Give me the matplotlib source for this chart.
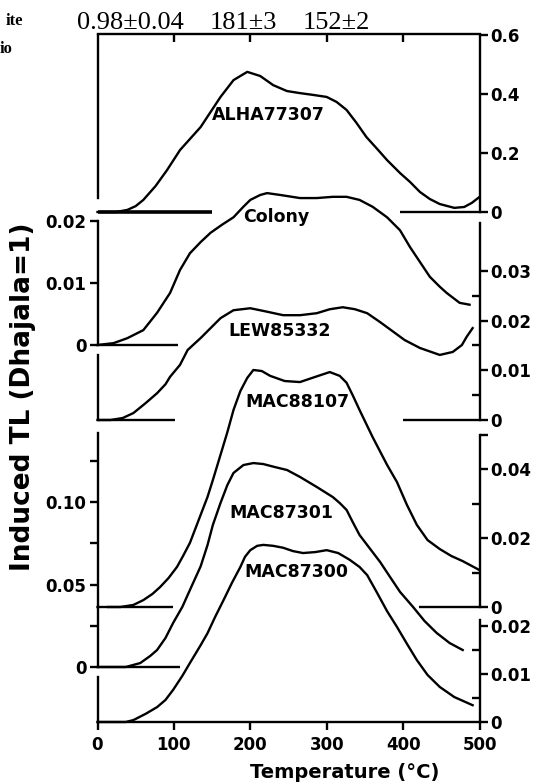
import matplotlib
matplotlib.use('Agg')
import matplotlib.pyplot as plt

# glow curves, temperature in C, induced TL (Dhajala=1)
alha_t = [0, 24, 39, 50, 60, 76, 91, 108, 135, 148, 161, 178, 196, 213, 230, 248, 265, 282,
          300, 313, 326, 339, 352, 366, 379, 396, 409, 422, 435, 448, 467, 480, 490, 500]
alha_v = [0, 0, 0.007, 0.020, 0.041, 0.088, 0.142, 0.210, 0.288, 0.339, 0.390, 0.447, 0.475,
          0.461, 0.430, 0.410, 0.403, 0.397, 0.390, 0.373, 0.346, 0.302, 0.254, 0.214, 0.176,
          0.132, 0.102, 0.068, 0.044, 0.027, 0.014, 0.017, 0.031, 0.051]

colony_t = [0, 21, 39, 60, 78, 95, 108, 121, 135, 148, 163, 178, 191, 200, 213, 222, 239, 265,
            287, 308, 326, 343, 360, 379, 396, 409, 422, 435, 448, 457, 474, 487]
colony_v = [0, 0.0003, 0.0011, 0.0024, 0.0052, 0.0084, 0.0121, 0.0148, 0.0166, 0.0181, 0.0194,
            0.0206, 0.0223, 0.0234, 0.0242, 0.0245, 0.0242, 0.0237, 0.0237, 0.0239, 0.0239,
            0.0234, 0.0223, 0.0206, 0.0185, 0.0158, 0.0134, 0.0110, 0.0094, 0.0084, 0.0068, 0.0065]

lew_t = [0, 17, 33, 47, 63, 78, 89, 95, 108, 118, 135, 148, 161, 178, 200, 219, 243, 265, 287,
         304, 321, 337, 353, 370, 386, 402, 422, 448, 465, 477, 483, 491]
lew_v = [0, 0, 0.0004, 0.0014, 0.0034, 0.0054, 0.0072, 0.0087, 0.0111, 0.0141, 0.0165, 0.0185,
         0.0205, 0.0221, 0.0225, 0.0219, 0.0211, 0.0211, 0.0215, 0.0223, 0.0227, 0.0223, 0.0215,
         0.0197, 0.0179, 0.0161, 0.0145, 0.0131, 0.0137, 0.0151, 0.0167, 0.0185]

m107_t = [0, 30, 47, 60, 72, 82, 93, 104, 112, 121, 135, 144, 151, 161, 170, 178, 187, 196, 204,
          215, 226, 245, 265, 285, 304, 317, 326, 334, 343, 360, 379, 392, 405, 418, 432, 448,
          463, 478, 500]
m107_v = [0, 0, 0.0006, 0.0020, 0.0038, 0.0058, 0.0084, 0.0116, 0.0148, 0.0186, 0.0267, 0.0319,
          0.0368, 0.0441, 0.0507, 0.0571, 0.0626, 0.0664, 0.0687, 0.0684, 0.0670, 0.0655, 0.0652,
          0.0667, 0.0681, 0.0670, 0.0650, 0.0614, 0.0571, 0.0493, 0.0412, 0.0362, 0.0296, 0.0238,
          0.0194, 0.0168, 0.0148, 0.0133, 0.0107]

m301_t = [0, 37, 56, 69, 78, 89, 99, 111, 121, 135, 144, 151, 161, 170, 178, 191, 204, 217, 232,
          248, 265, 287, 308, 317, 326, 334, 343, 356, 370, 383, 396, 413, 428, 444, 461, 478]
m301_v = [0, 0, 0.0024, 0.0067, 0.0103, 0.0176, 0.0267, 0.0364, 0.0467, 0.0610, 0.0739, 0.0861,
          0.0994, 0.1103, 0.1176, 0.1224, 0.1236, 0.1230, 0.1212, 0.1194, 0.1152, 0.1091, 0.1030,
          0.0994, 0.0952, 0.0879, 0.0800, 0.0721, 0.0636, 0.0545, 0.0455, 0.0364, 0.0279, 0.0206,
          0.0145, 0.0103]

m300_t = [0, 37, 47, 63, 78, 89, 99, 111, 121, 135, 144, 154, 165, 176, 187, 193, 200, 209, 217,
          230, 243, 256, 269, 285, 300, 315, 330, 343, 353, 366, 379, 392, 405, 418, 432, 448,
          467, 491]
m300_v = [0, 0, 0.0004, 0.0017, 0.0031, 0.0046, 0.0067, 0.0096, 0.0123, 0.0160, 0.0185, 0.0219,
          0.0254, 0.0290, 0.0323, 0.0344, 0.0358, 0.0367, 0.0369, 0.0367, 0.0363, 0.0356, 0.0352,
          0.0354, 0.0358, 0.0352, 0.0338, 0.0323, 0.0306, 0.0269, 0.0231, 0.0198, 0.0163, 0.0129,
          0.0098, 0.0073, 0.0052, 0.0035]

temp_ticks = [0, 100, 200, 300, 400, 500]
top_text = ['0.98\u00b10.04', '181\u00b13', '152\u00b12']

W, H = 541, 784
LW = 1.7
plt.rcParams['font.family'] = ['DejaVu Sans']
plt.rcParams['font.weight'] = 'bold'

fig = plt.figure(figsize=(W / 100, H / 100), dpi=100)
rect = [97.5 / W, 1 - 722 / H, 382 / W, 688 / H]


def fx(px):
    return px / W


def fy(py):
    return 1 - py / H


def panel(base_px, px_per_unit):
    # every panel shares the same box, only its own y scale differs
    ax = fig.add_axes(rect)
    ax.patch.set_visible(False)
    ax.set_xlim(0, 500)
    ax.set_ylim((base_px - 722) / px_per_unit, (base_px - 34) / px_per_unit)
    for sp in ax.spines.values():
        sp.set_visible(False)
        sp.set_linewidth(LW)
    ax.set_xticks([])
    ax.set_yticks([])
    return ax


def spine(ax, side, lo, hi):
    ax.spines[side].set_visible(True)
    ax.spines[side].set_bounds(lo, hi)


def yticks(ax, side, major, labels, minor=(), minor_dir='out'):
    ax.yaxis.set_ticks_position(side)
    ax.set_yticks(major)
    ax.set_yticklabels(labels)
    ax.set_yticks(list(minor), minor=True)
    ax.tick_params(axis='y', which='major', direction='out', length=6, width=LW,
                   labelsize=12, pad=2)
    ax.tick_params(axis='y', which='minor', direction=minor_dir, length=6, width=LW)


def curve(ax, t, v):
    ax.plot(t, v, color='k', lw=LW, clip_on=False, solid_joinstyle='round')


# ALHA77307
ax = panel(212, 295)
curve(ax, alha_t, alha_v)
ax.hlines(0, 0, 150, color='k', lw=2.6)
ax.hlines(0, 396, 500, color='k', lw=LW)
spine(ax, 'left', 0.047, 0.6)
spine(ax, 'right', 0, 0.6)
spine(ax, 'top', 0, 500)
yticks(ax, 'right', [0, 0.2, 0.4, 0.6], ['0', '0.2', '0.4', '0.6'])
ax.xaxis.set_ticks_position('top')
ax.set_xticks(temp_ticks[1:-1])
ax.set_xticklabels([])
ax.tick_params(axis='x', direction='in', length=6, width=LW)

# Colony
ax = panel(345, 6200)
curve(ax, colony_t, colony_v)
ax.hlines(0, 0, 106, color='k', lw=LW)
spine(ax, 'left', 0, 0.02)
yticks(ax, 'left', [0, 0.01, 0.02], ['0', '0.01', '0.02'])

# LEW85332
ax = panel(420, 4967)
curve(ax, lew_t, lew_v)
ax.hlines(0, 0, 102, color='k', lw=LW)
ax.hlines(0, 400, 500, color='k', lw=LW)
spine(ax, 'left', 0, 0.013)
spine(ax, 'right', 0, 0.0397)
yticks(ax, 'right', [0, 0.01, 0.02, 0.03], ['0', '0.01', '0.02', '0.03'],
       minor=[0.005, 0.015, 0.025], minor_dir='in')

# MAC88107
ax = panel(607, 3450)
curve(ax, m107_t, m107_v)
ax.hlines(0, 13, 99, color='k', lw=LW)
ax.hlines(0, 421, 500, color='k', lw=LW)
spine(ax, 'right', 0, 0.05)
yticks(ax, 'right', [0, 0.02, 0.04, 0.05], ['0', '0.02', '0.04', ''],
       minor=[0.01, 0.03], minor_dir='in')

# MAC87301
ax = panel(667, 1650)
curve(ax, m301_t, m301_v)
ax.hlines(0, 0, 108, color='k', lw=LW)
spine(ax, 'left', 0, 0.142)
yticks(ax, 'left', [0, 0.05, 0.10], ['0', '0.05', '0.10'], minor=[0.025, 0.075, 0.125])

# MAC87300, carries the temperature axis
ax = panel(722, 4800)
curve(ax, m300_t, m300_v)
spine(ax, 'left', 0, 0.0094)
spine(ax, 'right', 0, 0.0212)
spine(ax, 'bottom', 0, 500)
yticks(ax, 'right', [0, 0.01, 0.02], ['0', '0.01', '0.02'],
       minor=[0.005, 0.015], minor_dir='in')
ax.xaxis.set_ticks_position('bottom')
ax.set_xticks(temp_ticks)
ax.set_xticklabels([str(t) for t in temp_ticks])
ax.tick_params(axis='x', direction='out', length=6, width=LW, labelsize=12, pad=4)

# sample names
names = ['ALHA77307', 'Colony', 'LEW85332', 'MAC88107', 'MAC87301', 'MAC87300']
name_pos = [(268, 115), (276, 217), (280, 331), (297, 402), (281, 513), (296, 572)]
for name, (px, py) in zip(names, name_pos):
    fig.text(fx(px), fy(py), name, ha='center', va='center', fontsize=12.5, fontweight='bold')

fig.text(fx(23), fy(397), 'Induced TL (Dhajala=1)', rotation=90, ha='center', va='center',
         fontsize=19, fontweight='bold')
fig.text(fx(345), fy(772), 'Temperature (\u00b0C)', ha='center', va='center',
         fontsize=14, fontweight='bold')

# remnants of the table above the figure in the scan
for s, px in zip(top_text, [77, 210, 303]):
    fig.text(fx(px), fy(29), s, ha='left', va='baseline', fontsize=19,
             family='Liberation Serif', fontweight='normal')
fig.text(fx(23), fy(25), 'ite', ha='right', va='baseline', fontsize=12,
         family='Liberation Serif')
fig.text(fx(13), fy(53), 'io', ha='right', va='baseline', fontsize=12,
         family='Liberation Serif')

fig.savefig('out.png', dpi=100)
